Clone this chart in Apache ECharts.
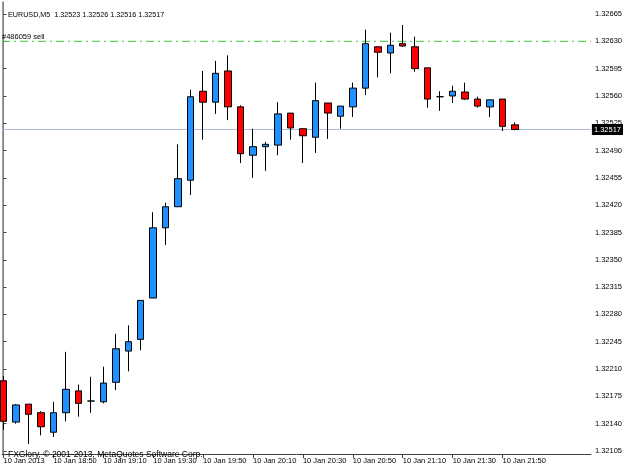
<!DOCTYPE html>
<html>
<head>
<meta charset="utf-8">
<script src="https://cdn.jsdelivr.net/npm/echarts@6/dist/echarts.min.js"></script>
<style>html,body{margin:0;padding:0;background:#fff;}#c{width:625px;height:469px;}</style>
</head>
<body>
<div id="c"></div>
<script>
// Bars: 10 Jan 2013, 18:30 .. 21:55 (M5)
var opens  = [1.32195,1.32142,1.32165,1.32154,1.32129,1.32154,1.32182,1.32169,1.32168,1.32193,1.32233,1.32248,1.32301,1.32391,1.32418,1.32452,1.32566,1.32552,1.32592,1.32546,1.32484,1.32495,1.32497,1.32538,1.32518,1.32507,1.32551,1.32534,1.32546,1.32570,1.32623,1.32615,1.32627,1.32623,1.32596,1.32559,1.32560,1.32565,1.32556,1.32546,1.32556,1.32523];
var closes = [1.32143,1.32164,1.32152,1.32136,1.32154,1.32184,1.32166,1.32169,1.32192,1.32236,1.32245,1.32298,1.32391,1.32418,1.32454,1.32559,1.32552,1.32589,1.32546,1.32486,1.32495,1.32498,1.32537,1.32519,1.32509,1.32554,1.32538,1.32547,1.32570,1.32627,1.32616,1.32625,1.32624,1.32595,1.32556,1.32559,1.32566,1.32556,1.32547,1.32555,1.32521,1.32517];
var lows   = [1.32132,1.32140,1.32114,1.32125,1.32123,1.32143,1.32149,1.32154,1.32166,1.32183,1.32207,1.32234,1.32301,1.32369,1.32418,1.32433,1.32504,1.32537,1.32529,1.32474,1.32455,1.32464,1.32484,1.32504,1.32474,1.32487,1.32505,1.32518,1.32533,1.32561,1.32584,1.32589,1.32623,1.32591,1.32545,1.32541,1.32551,1.32555,1.32545,1.32533,1.32515,1.32516];
var highs  = [1.32201,1.32165,1.32165,1.32156,1.32168,1.32232,1.32190,1.32200,1.32213,1.32255,1.32266,1.32298,1.32411,1.32423,1.32498,1.32568,1.32592,1.32605,1.32612,1.32548,1.32518,1.32501,1.32552,1.32538,1.32518,1.32577,1.32551,1.32547,1.32577,1.32645,1.32623,1.32641,1.32651,1.32636,1.32596,1.32566,1.32573,1.32577,1.32559,1.32555,1.32556,1.32526];

var xTickIndex  = [0,4,8,12,16,20,24,28,32,36,40];
var xTickLabels = ['10 Jan 2013','10 Jan 18:50','10 Jan 19:10','10 Jan 19:30','10 Jan 19:50','10 Jan 20:10','10 Jan 20:30','10 Jan 20:50','10 Jan 21:10','10 Jan 21:30','10 Jan 21:50'];
var yTickLabels = ['1.32105','1.32140','1.32175','1.32210','1.32245','1.32280','1.32315','1.32350','1.32385','1.32420','1.32455','1.32490','1.32525','1.32560','1.32595','1.32630','1.32665'];

var sellLevel = 1.32630;
var sellText = '#486059 sell';
var bidLevel = 1.32517;
var headerText = 'EURUSD,M5  1.32523 1.32526 1.32516 1.32517';
var footerText = 'FXGlory, \u00a9 2001-2013, MetaQuotes Software Corp.';

var X_MIN = -0.12, X_MAX = 47.08;
var Y_MIN = 1.321011, Y_MAX = 1.326804;

var FONT = 'Liberation Sans';
var yTickVals = yTickLabels.map(Number);
var data = opens.map(function (o, i) { return [i, o, closes[i], lows[i], highs[i]]; });

// Horizontal level: drawn as a 2-point line series; its label comes from a stroke-less markLine.
function levelSeries(level, color, type, label) {
  return {
    type: 'line', silent: true, z: 1,
    data: [[X_MIN, level], [X_MAX, level]],
    symbol: 'none', showSymbol: false,
    lineStyle: {color: color, width: 1, type: type},
    markLine: {
      silent: true, symbol: 'none', animation: false,
      lineStyle: {width: 0, color: 'rgba(0,0,0,0)'},
      label: label,
      data: [[{coord: [X_MIN, level]}, {coord: [X_MAX, level]}]]
    }
  };
}

var chart = echarts.init(document.getElementById('c'), null, {renderer: 'canvas'});
chart.setOption({
  animation: false,
  backgroundColor: '#ffffff',
  textStyle: {fontFamily: FONT},
  title: [
    {text: headerText, left: 3, top: 7, textStyle: {fontSize: 7.2, fontWeight: 'normal', color: '#000', fontFamily: FONT}},
    {text: footerText, left: 3, top: 445, textStyle: {fontSize: 8.5, fontWeight: 'normal', color: '#000', fontFamily: FONT}}
  ],
  grid: {left: 2, right: 33, top: 2, bottom: 15},
  xAxis: {
    type: 'value', min: X_MIN, max: X_MAX,
    splitLine: {show: false},
    axisLine: {show: true, lineStyle: {color: '#404040', width: 1}},
    axisTick: {show: true, customValues: xTickIndex, length: 4, lineStyle: {color: '#404040'}},
    axisLabel: {
      customValues: xTickIndex, align: 'left', margin: 3, fontSize: 7.5, color: '#000', fontFamily: FONT,
      formatter: function (v) { var k = xTickIndex.indexOf(Math.round(v)); return k >= 0 ? xTickLabels[k] : ''; }
    }
  },
  yAxis: [{
    type: 'value', position: 'right', min: Y_MIN, max: Y_MAX,
    splitLine: {show: false},
    axisLine: {show: true, lineStyle: {color: '#808080', width: 1}},
    axisTick: {show: true, customValues: yTickVals, length: 3, lineStyle: {color: '#404040'}},
    axisLabel: {
      customValues: yTickVals, margin: 4, fontSize: 7.5, color: '#000', fontFamily: FONT,
      formatter: function (v) { return v.toFixed(5); }
    }
  }, {
    type: 'value', position: 'left', min: Y_MIN, max: Y_MAX,
    splitLine: {show: false}, axisTick: {show: false}, axisLabel: {show: false},
    axisLine: {show: true, lineStyle: {color: '#a0a0a0', width: 1}}
  }],
  series: [
    levelSeries(bidLevel, '#b0bcd4', 'solid',
      {show: true, position: 'end', distance: 1, formatter: bidLevel.toFixed(5),
       color: '#fff', backgroundColor: '#000', padding: [2, 2, 1, 2], fontSize: 7.5, fontFamily: FONT}),
    levelSeries(sellLevel, '#3cc83c', [8, 4, 2, 4],
      {show: true, position: 'insideStartTop', distance: 0, formatter: sellText, color: '#000', fontSize: 7.5, fontFamily: FONT}),
    {
      type: 'candlestick',
      data: data,
      z: 3,
      encode: {x: 0, y: [1, 2, 3, 4]},
      barWidth: 7,
      itemStyle: {
        color: '#1e90ff', color0: '#ff0000',
        borderColor: '#000', borderColor0: '#000', borderColorDoji: '#000', borderWidth: 1
      }
    }
  ]
});
</script>
</body>
</html>
